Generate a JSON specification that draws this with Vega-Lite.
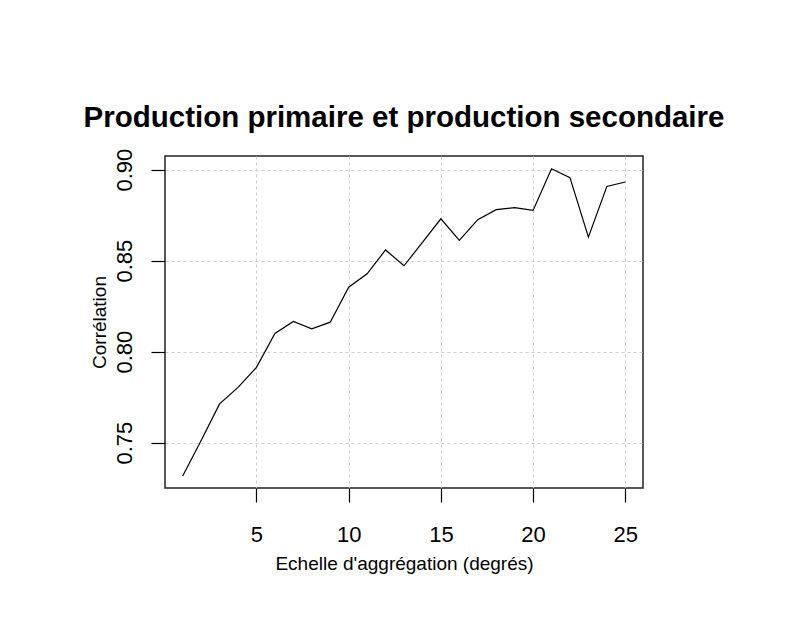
{
  "$schema": "https://vega.github.io/schema/vega-lite/v6.json",
  "width": 478,
  "height": 332,
  "autosize": {"type": "none"},
  "padding": {"left": 165, "top": 156, "right": 145, "bottom": 142},
  "background": "white",
  "title": {
    "text": "Production primaire et production secondaire",
    "font": "Liberation Sans",
    "fontSize": 29.5,
    "fontWeight": "bold",
    "color": "black",
    "anchor": "middle",
    "offset": 15
  },
  "config": {
    "view": {"stroke": "#222", "strokeWidth": 1.5},
    "axis": {
      "labelFont": "Liberation Sans",
      "titleFont": "Liberation Sans",
      "labelColor": "black",
      "titleColor": "black",
      "titleFontWeight": "normal",
      "domain": false,
      "tickColor": "black",
      "tickWidth": 1.2,
      "tickSize": 14,
      "gridColor": "#cccccc",
      "gridDash": [3, 3],
      "gridWidth": 1
    }
  },
  "data": {
    "values": [
      {"x": 1, "y": 0.7317},
      {"x": 2, "y": 0.7512},
      {"x": 3, "y": 0.7713},
      {"x": 4, "y": 0.7804},
      {"x": 5, "y": 0.7914},
      {"x": 6, "y": 0.8100},
      {"x": 7, "y": 0.8166},
      {"x": 8, "y": 0.8125},
      {"x": 9, "y": 0.8162},
      {"x": 10, "y": 0.8354},
      {"x": 11, "y": 0.8428},
      {"x": 12, "y": 0.8559},
      {"x": 13, "y": 0.8472},
      {"x": 14, "y": 0.8600},
      {"x": 15, "y": 0.8730},
      {"x": 16, "y": 0.8611},
      {"x": 17, "y": 0.8725},
      {"x": 18, "y": 0.8780},
      {"x": 19, "y": 0.8791},
      {"x": 20, "y": 0.8776},
      {"x": 21, "y": 0.9005},
      {"x": 22, "y": 0.8956},
      {"x": 23, "y": 0.8629},
      {"x": 24, "y": 0.8908},
      {"x": 25, "y": 0.8932}
    ]
  },
  "mark": {"type": "line", "color": "black", "strokeWidth": 1.2},
  "encoding": {
    "x": {
      "field": "x",
      "type": "quantitative",
      "scale": {"domain": [0.04, 25.96], "nice": false, "zero": false},
      "axis": {
        "values": [5, 10, 15, 20, 25],
        "title": "Echelle d'aggrégation (degrés)",
        "labelFontSize": 22,
        "labelPadding": 22,
        "titleFontSize": 19,
        "titlePadding": 9,
        "labelFlush": false
      }
    },
    "y": {
      "field": "y",
      "type": "quantitative",
      "scale": {"domain": [0.7251, 0.9075], "nice": false, "zero": false},
      "axis": {
        "values": [0.75, 0.8, 0.85, 0.9],
        "format": ".2f",
        "title": "Corrélation",
        "labelAngle": -90,
        "labelFontSize": 22,
        "labelPadding": 15,
        "titleFontSize": 19,
        "titlePadding": 4,
        "labelFlush": false
      }
    }
  }
}
